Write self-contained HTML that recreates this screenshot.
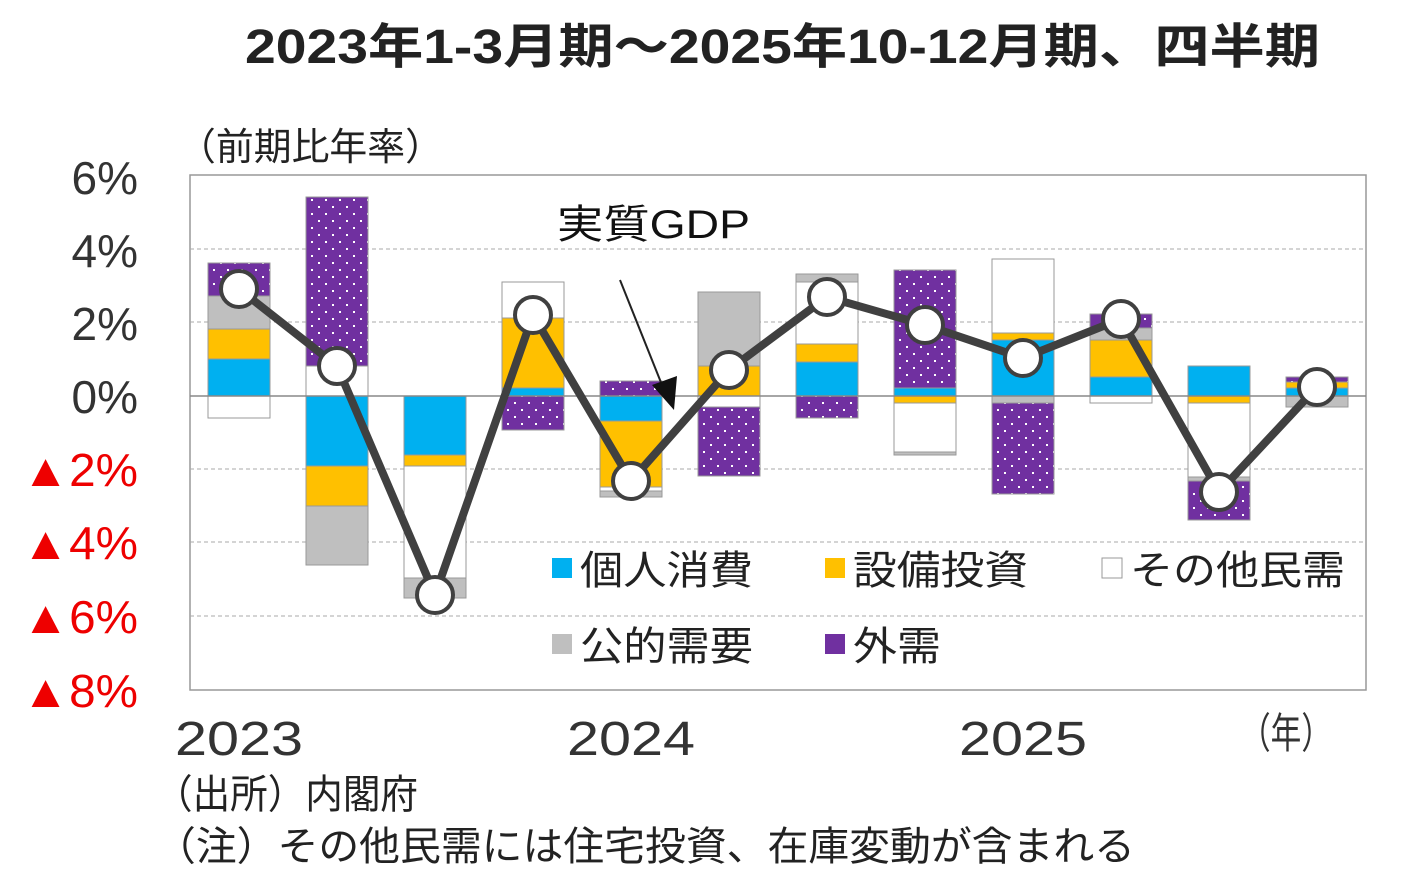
<!DOCTYPE html>
<html><head><meta charset="utf-8"><style>
body{margin:0;background:#fff;}
svg text{font-family:"Liberation Sans","Noto Sans CJK JP",sans-serif;}
</style></head><body>
<svg width="1425" height="885" viewBox="0 0 1425 885" xmlns="http://www.w3.org/2000/svg">
<defs>
<pattern id="dots" width="14" height="14" patternUnits="userSpaceOnUse">
<rect width="14" height="14" fill="#7030a0"/>
<rect x="3" y="3" width="2" height="2" fill="#fff"/>
<rect x="10" y="10" width="2" height="2" fill="#fff"/>
</pattern>
</defs>
<text x="245" y="63" font-size="48" fill="#222" font-weight="bold" textLength="1075" lengthAdjust="spacingAndGlyphs">2023年1-3月期～2025年10-12月期、四半期</text>
<text x="178" y="160" font-size="38" fill="#222" textLength="265" lengthAdjust="spacingAndGlyphs">（前期比年率）</text>
<rect x="190" y="175" width="1176" height="515" fill="none" stroke="#999" stroke-width="1.5"/>
<g stroke="#aaa" stroke-width="1" stroke-dasharray="4,3">
<line x1="190" x2="1366" y1="249" y2="249"/><line x1="190" x2="1366" y1="322" y2="322"/>
<line x1="190" x2="1366" y1="469" y2="469"/><line x1="190" x2="1366" y1="542" y2="542"/>
<line x1="190" x2="1366" y1="616" y2="616"/>
</g>
<g font-size="46" text-anchor="end">
<text x="138" y="194" fill="#333">6%</text><text x="138" y="267" fill="#333">4%</text>
<text x="138" y="340" fill="#333">2%</text><text x="138" y="413" fill="#333">0%</text>
<text x="138" y="486" fill="#e00" textLength="116" lengthAdjust="spacingAndGlyphs">▲2%</text><text x="138" y="559" fill="#e00" textLength="116" lengthAdjust="spacingAndGlyphs">▲4%</text>
<text x="138" y="633" fill="#e00" textLength="116" lengthAdjust="spacingAndGlyphs">▲6%</text><text x="138" y="707" fill="#e00" textLength="116" lengthAdjust="spacingAndGlyphs">▲8%</text>
</g>
<g stroke="#999" stroke-width="1">
<rect x="208" y="359" width="62" height="37" fill="#00b0f0"/><rect x="208" y="329" width="62" height="30" fill="#ffc000"/>
<rect x="208" y="296" width="62" height="33" fill="#bfbfbf"/><rect x="208" y="263" width="62" height="33" fill="url(#dots)"/>
<rect x="208" y="396" width="62" height="22" fill="#fff"/>
<rect x="306" y="366" width="62" height="30" fill="#fff"/><rect x="306" y="197" width="62" height="169" fill="url(#dots)"/>
<rect x="306" y="396" width="62" height="70" fill="#00b0f0"/><rect x="306" y="466" width="62" height="40" fill="#ffc000"/>
<rect x="306" y="506" width="62" height="59" fill="#bfbfbf"/>
<rect x="404" y="396" width="62" height="59" fill="#00b0f0"/><rect x="404" y="455" width="62" height="11" fill="#ffc000"/>
<rect x="404" y="466" width="62" height="112" fill="#fff"/><rect x="404" y="578" width="62" height="20" fill="#bfbfbf"/>
<rect x="502" y="388" width="62" height="8" fill="#00b0f0"/><rect x="502" y="318" width="62" height="70" fill="#ffc000"/>
<rect x="502" y="282" width="62" height="36" fill="#fff"/><rect x="502" y="396" width="62" height="34" fill="url(#dots)"/>
<rect x="600" y="381" width="62" height="15" fill="url(#dots)"/><rect x="600" y="396" width="62" height="25" fill="#00b0f0"/>
<rect x="600" y="421" width="62" height="66" fill="#ffc000"/><rect x="600" y="487" width="62" height="4" fill="#fff"/>
<rect x="600" y="491" width="62" height="6" fill="#bfbfbf"/>
<rect x="698" y="366" width="62" height="30" fill="#ffc000"/><rect x="698" y="292" width="62" height="74" fill="#bfbfbf"/>
<rect x="698" y="396" width="62" height="11" fill="#fff"/><rect x="698" y="407" width="62" height="69" fill="url(#dots)"/>
<rect x="796" y="362" width="62" height="34" fill="#00b0f0"/><rect x="796" y="344" width="62" height="18" fill="#ffc000"/>
<rect x="796" y="282" width="62" height="62" fill="#fff"/><rect x="796" y="274" width="62" height="8" fill="#bfbfbf"/>
<rect x="796" y="396" width="62" height="22" fill="url(#dots)"/>
<rect x="894" y="388" width="62" height="8" fill="#00b0f0"/><rect x="894" y="270" width="62" height="118" fill="url(#dots)"/>
<rect x="894" y="396" width="62" height="7" fill="#ffc000"/><rect x="894" y="403" width="62" height="49" fill="#fff"/>
<rect x="894" y="452" width="62" height="3" fill="#bfbfbf"/>
<rect x="992" y="340" width="62" height="56" fill="#00b0f0"/><rect x="992" y="333" width="62" height="7" fill="#ffc000"/>
<rect x="992" y="259" width="62" height="74" fill="#fff"/><rect x="992" y="396" width="62" height="7" fill="#bfbfbf"/>
<rect x="992" y="403" width="62" height="91" fill="url(#dots)"/>
<rect x="1090" y="377" width="62" height="19" fill="#00b0f0"/><rect x="1090" y="340" width="62" height="37" fill="#ffc000"/>
<rect x="1090" y="328" width="62" height="12" fill="#bfbfbf"/><rect x="1090" y="314" width="62" height="14" fill="url(#dots)"/>
<rect x="1090" y="396" width="62" height="7" fill="#fff"/>
<rect x="1188" y="366" width="62" height="30" fill="#00b0f0"/><rect x="1188" y="396" width="62" height="7" fill="#ffc000"/>
<rect x="1188" y="403" width="62" height="74" fill="#fff"/><rect x="1188" y="477" width="62" height="4" fill="#bfbfbf"/>
<rect x="1188" y="481" width="62" height="39" fill="url(#dots)"/>
<rect x="1286" y="388" width="62" height="8" fill="#00b0f0"/><rect x="1286" y="382" width="62" height="6" fill="#ffc000"/>
<rect x="1286" y="377" width="62" height="5" fill="url(#dots)"/><rect x="1286" y="396" width="62" height="11" fill="#bfbfbf"/>
</g>
<line x1="190" x2="1366" y1="396" y2="396" stroke="#888" stroke-width="1.5"/>
<polyline points="239,289 337,366 435,595 533,315 631,481 729,370 827,297 925,325 1023,358 1121,319 1219,492 1317,387" fill="none" stroke="#404040" stroke-width="8" stroke-linejoin="round"/>
<g fill="#fff" stroke="#404040" stroke-width="4">
<circle cx="239" cy="289" r="18"/><circle cx="337" cy="366" r="18"/><circle cx="435" cy="595" r="18"/>
<circle cx="533" cy="315" r="18"/><circle cx="631" cy="481" r="18"/><circle cx="729" cy="370" r="18"/>
<circle cx="827" cy="297" r="18"/><circle cx="925" cy="325" r="18"/><circle cx="1023" cy="358" r="18"/>
<circle cx="1121" cy="319" r="18"/><circle cx="1219" cy="492" r="18"/><circle cx="1317" cy="387" r="18"/>
</g>
<text x="557" y="238" font-size="40" fill="#111" textLength="193" lengthAdjust="spacingAndGlyphs">実質GDP</text>
<line x1="620" y1="280" x2="664" y2="390" stroke="#222" stroke-width="2"/>
<polygon points="674,410 652,385 677,376" fill="#111"/>
<g font-size="40" fill="#222">
<rect x="552" y="558" width="20" height="20" fill="#00b0f0"/><text x="580" y="584" textLength="173" lengthAdjust="spacingAndGlyphs">個人消費</text>
<rect x="825" y="558" width="20" height="20" fill="#ffc000"/><text x="853" y="584" textLength="175" lengthAdjust="spacingAndGlyphs">設備投資</text>
<rect x="1102" y="558" width="20" height="20" fill="#fff" stroke="#999"/><text x="1130" y="584" textLength="215" lengthAdjust="spacingAndGlyphs">その他民需</text>
<rect x="552" y="634" width="20" height="20" fill="#bfbfbf"/><text x="580" y="660" textLength="173" lengthAdjust="spacingAndGlyphs">公的需要</text>
<rect x="825" y="634" width="20" height="20" fill="#7030a0"/><text x="853" y="660" textLength="88" lengthAdjust="spacingAndGlyphs">外需</text>
</g>
<g font-size="48" fill="#333" text-anchor="middle">
<text x="239" y="755" textLength="128" lengthAdjust="spacingAndGlyphs">2023</text><text x="631" y="755" textLength="128" lengthAdjust="spacingAndGlyphs">2024</text><text x="1023" y="755" textLength="128" lengthAdjust="spacingAndGlyphs">2025</text>
</g>
<text x="1240" y="748" font-size="42" fill="#333" textLength="92" lengthAdjust="spacingAndGlyphs">（年）</text>
<text x="155" y="808" font-size="40" fill="#222" textLength="263" lengthAdjust="spacingAndGlyphs">（出所）内閣府</text>
<text x="155" y="860" font-size="40" fill="#222" textLength="980" lengthAdjust="spacingAndGlyphs">（注）その他民需には住宅投資、在庫変動が含まれる</text>
</svg>
</body></html>
